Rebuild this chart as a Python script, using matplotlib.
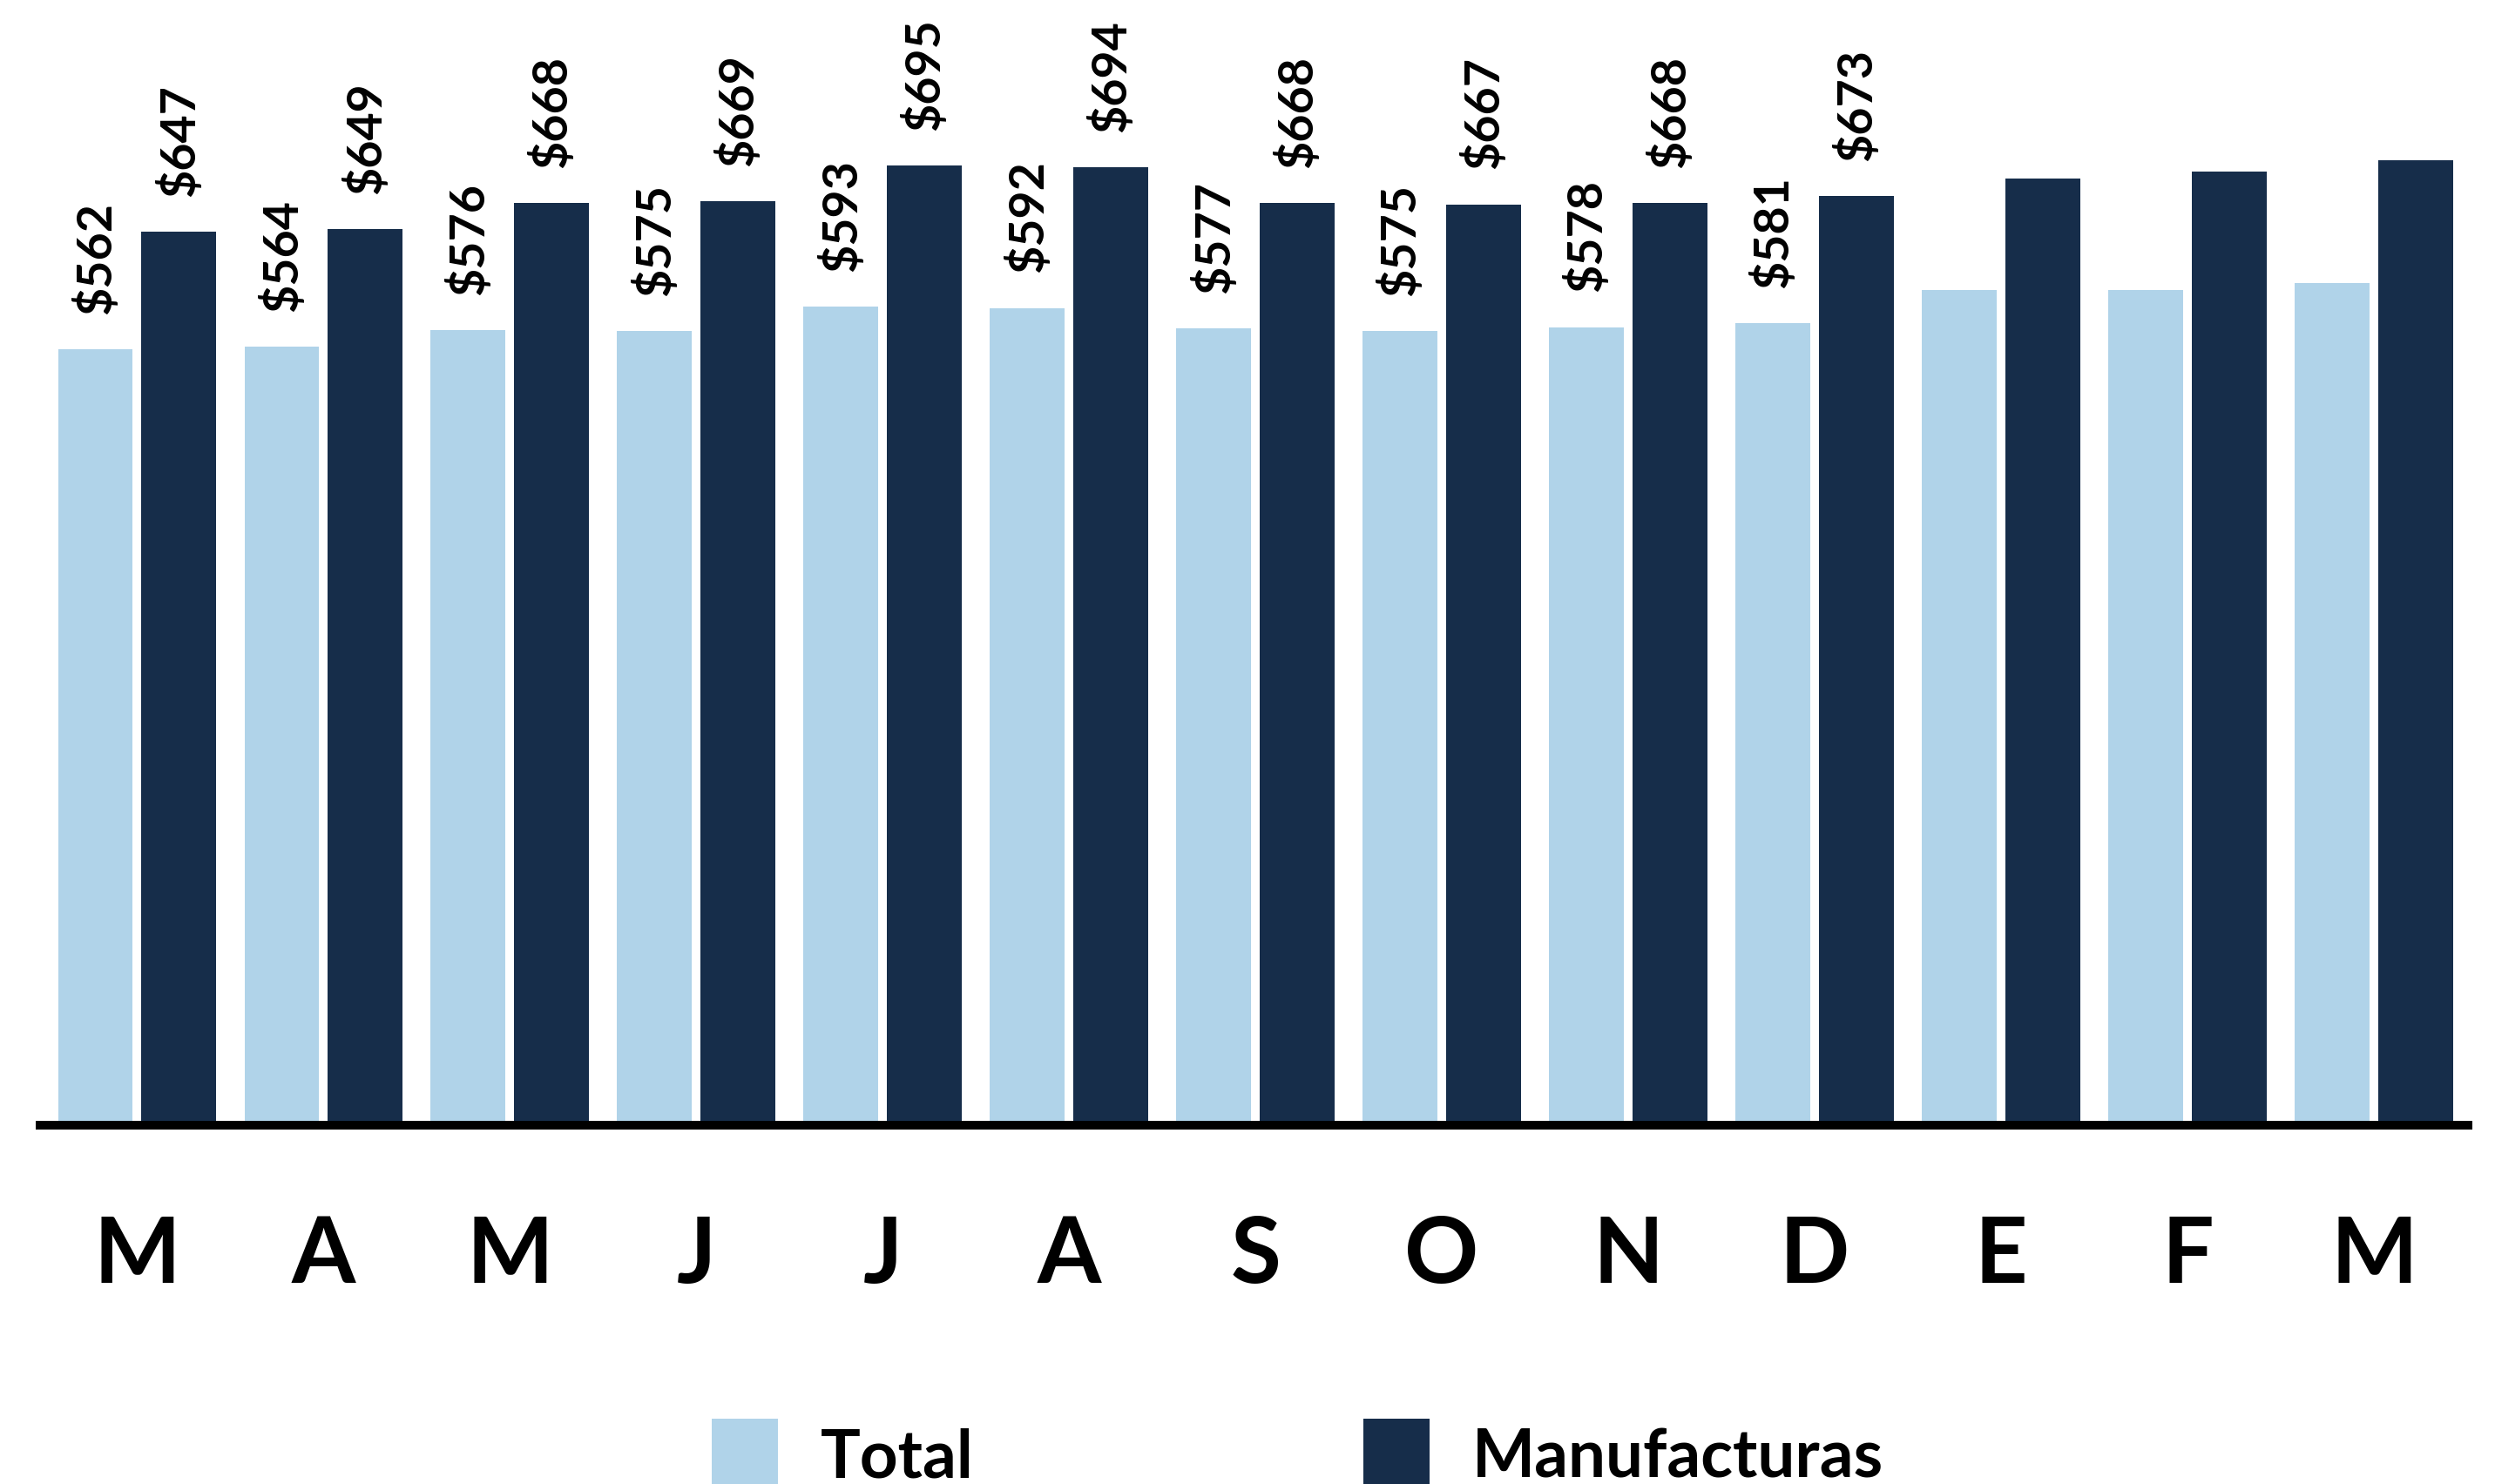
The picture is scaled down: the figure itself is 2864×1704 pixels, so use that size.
import numpy as np
import matplotlib.pyplot as plt

plt.rcParams['font.family'] = ['Lato', 'DejaVu Sans']

months = ['M', 'A', 'M', 'J', 'J', 'A', 'S', 'O', 'N', 'D', 'E', 'F', 'M']
total = [562, 564, 576, 575, 593, 592, 577, 575, 578, 581, 605, 605, 610]
manufacturas = [647, 649, 668, 669, 695, 694, 668, 667, 668, 673, 686, 691, 699]
n_labeled = 10  # last three months carry no value label

light = '#B0D3E9'
dark = '#162D4A'

fig = plt.figure(figsize=(28.64, 17.04), dpi=100)
ax = fig.add_axes([46 / 2864, 412 / 1704, 2787 / 2864, 1292 / 1704])

x = np.arange(len(months))
w = 0.40
off = 0.224
b1 = ax.bar(x - off, total, w, color=light, label='Total', zorder=2)
b2 = ax.bar(x + off, manufacturas, w, color=dark, label='Manufacturas', zorder=2)

for bars, vals in ((b1, total), (b2, manufacturas)):
    for rect, v in list(zip(bars, vals))[:n_labeled]:
        ax.annotate(f'${v}', (rect.get_x() + rect.get_width() / 2, v),
                    xytext=(0, 29), textcoords='offset points',
                    rotation=90, ha='center', va='bottom',
                    fontsize=40, fontweight='bold', color='black')

ax.set_xlim(-0.52, len(months) - 1 + 0.505)
ax.set_ylim(0, 815)
ax.set_yticks([])
ax.set_xticks(x)
ax.set_xticklabels(months, fontsize=76, fontweight='bold')
ax.tick_params(axis='x', length=0, pad=130)
for lab in ax.get_xticklabels():
    lab.set_verticalalignment('baseline')

for s in ('top', 'right', 'left'):
    ax.spines[s].set_visible(False)
ax.spines['bottom'].set_linewidth(7.2)
ax.spines['bottom'].set_color('black')
ax.spines['bottom'].set_zorder(3)

fig.legend(handles=[b1, b2], loc='lower left', bbox_to_anchor=(817 / 2864, -0.005),
           ncol=2, frameon=False, handlelength=1.0, handleheight=1.3,
           handletextpad=0.64, columnspacing=5.85, borderpad=0, borderaxespad=0,
           prop={'weight': 'bold', 'size': 55})

fig.savefig('out.png', dpi=100)
